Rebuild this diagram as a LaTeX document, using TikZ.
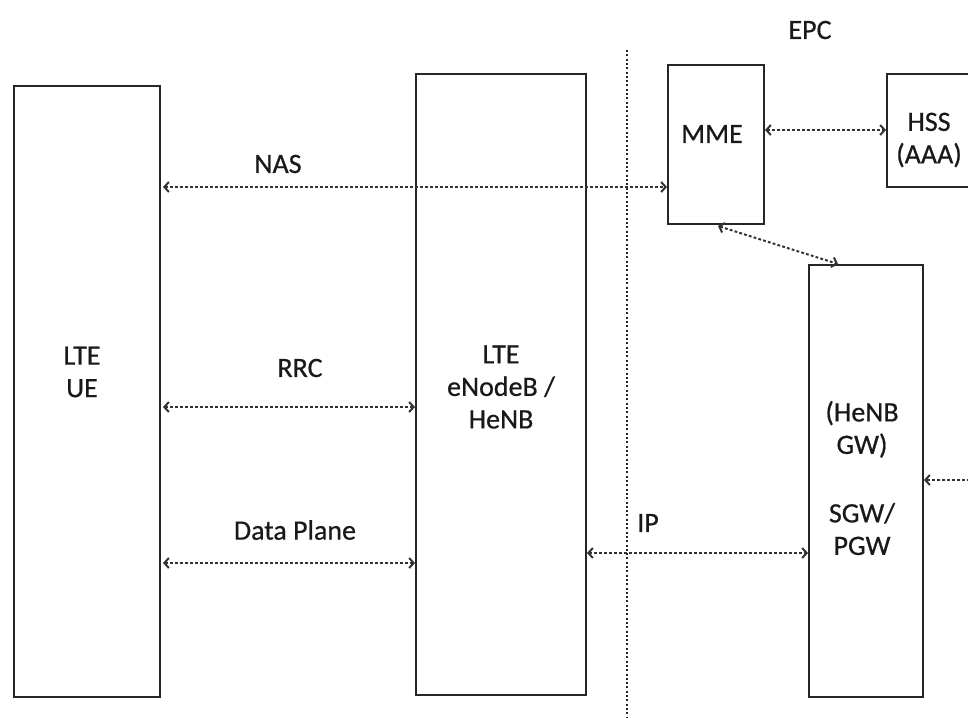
\documentclass[tikz,border=0pt]{standalone}
\usepackage{fontspec}
\setmainfont{Carlito}
\newfontfamily\lblfont[FakeBold=0.6]{Carlito}
\usetikzlibrary{arrows.meta}
\begin{document}
\begin{tikzpicture}[x=1pt,y=-1pt,
  box/.style={draw=black!85, line width=2.4pt, inner sep=0pt},
  lbl/.style={font=\lblfont\fontsize{28}{32.5}\selectfont, align=center, inner sep=0pt, text=black!90},
  conn/.style={black!80, line width=2pt, dash pattern=on 2.8pt off 2.2pt, {Straight Barb[length=4.5pt,width=10pt]}-{Straight Barb[length=4.5pt,width=10pt]}},
  conn1/.style={black!80, line width=2pt, dash pattern=on 2.8pt off 2.2pt, -{Straight Barb[length=4.5pt,width=10pt]}}]
\useasboundingbox (0,0) rectangle (968,717);
\begin{scope}
\clip (0,0) rectangle (968,717);
% boxes
\draw[box] (14,86) rectangle (160,697);
\draw[box] (416,74) rectangle (586,695);
\draw[box] (668,65) rectangle (764,224);
\draw[box] (887,74) rectangle (985,187);
\draw[box] (809,265) rectangle (923,697);
% labels
\node[lbl] (ue) at (82,372) {LTE\\UE};
\node[lbl] (enb) at (501,387) {LTE\\eNodeB /\\HeNB};
\node[lbl] (mme) at (712,134) {MME};
\node[lbl] (hss) at (929,140) {HSS\\(AAA)};
\node[lbl] (sgwtxt) at (862,478) {(HeNB\\GW)\\[36pt]SGW/\\PGW};
\node[lbl] (epc) at (810,30) {EPC};
\node[lbl] (nas) at (278,164) {NAS};
\node[lbl] (rrc) at (300,368) {RRC};
\node[lbl] (dp) at (295,530) {Data Plane};
\node[lbl] (ip) at (648,523) {IP};
% separator
\draw[black!85, line width=2pt, dash pattern=on 2pt off 2.3pt] (627,50) coordinate (s1) -- (627,717) coordinate (s2);
% connectors
\coordinate (a1) at (163,187); \coordinate (a2) at (667,187);
\draw[conn] (a1) -- (a2);
\coordinate (b1) at (163,407); \coordinate (b2) at (415,407);
\draw[conn] (b1) -- (b2);
\coordinate (c1) at (163,563); \coordinate (c2) at (415,563);
\draw[conn] (c1) -- (c2);
\coordinate (d1) at (587,553); \coordinate (d2) at (808,553);
\draw[conn] (d1) -- (d2);
\coordinate (e1) at (765,130); \coordinate (e2) at (886,130);
\draw[conn] (e1) -- (e2);
\coordinate (f1) at (718,226); \coordinate (f2) at (838,264);
\draw[conn] (f1) -- (f2);
\coordinate (g1) at (975,480); \coordinate (g2) at (924,480);
\draw[conn1] (g1) -- (g2);
\end{scope}
\end{tikzpicture}
\end{document}
